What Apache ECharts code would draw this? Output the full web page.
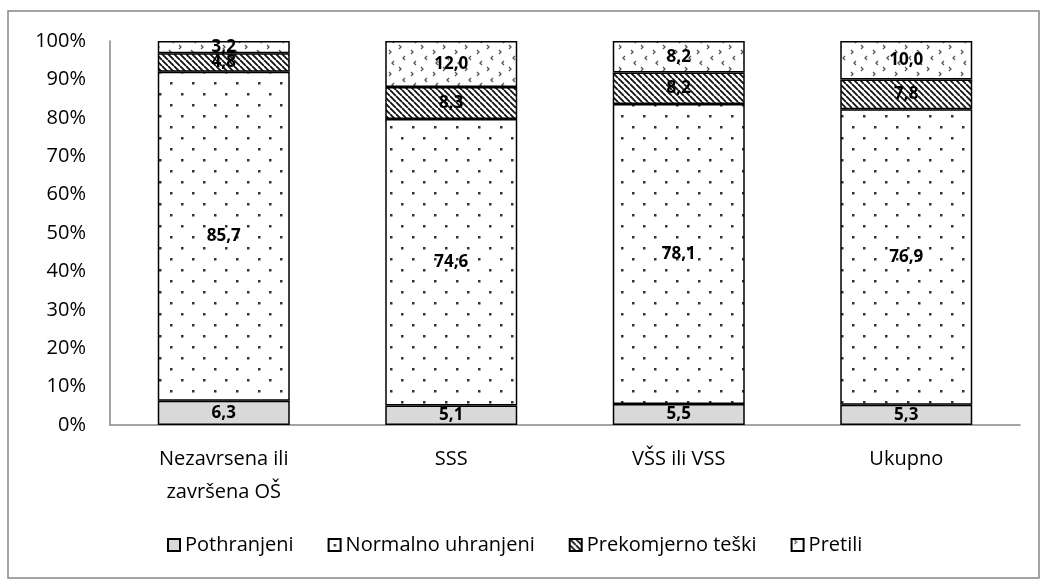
<!DOCTYPE html>
<html>
<head>
<meta charset="utf-8">
<script src="https://cdn.jsdelivr.net/npm/echarts@6/dist/echarts.min.js"></script>
<style>
    html, body { margin: 0; padding: 0; background: #fff; }
    #chart { width: 1041px; height: 581px; }
</style>
</head>
<body>
<div id="chart"></div>
<script>
const categories = ["Nezavrsena ili\nzavršena OŠ", "SSS", "VŠS ili VSS", "Ukupno"];
const seriesNames = ["Pothranjeni", "Normalno uhranjeni", "Prekomjerno teški", "Pretili"];
const pothranjeni = [6.3, 5.1, 5.5, 5.3];
const normalno = [85.7, 74.6, 78.1, 76.9];
const prekomjerno = [4.8, 8.3, 8.2, 7.8];
const pretili = [3.2, 12.0, 8.2, 10.0];
const yTicks = [0, 10, 20, 30, 40, 50, 60, 70, 80, 90, 100];

const FONT = "Open Sans";

function makeTile(w, h, draw) {
    const c = document.createElement("canvas");
    c.width = w;
    c.height = h;
    const ctx = c.getContext("2d");
    ctx.fillStyle = "#fff";
    ctx.fillRect(0, 0, w, h);
    draw(ctx);
    return { image: c, repeat: "repeat" };
}

// sparse dots
const dotFill = makeTile(22, 22, ctx => {
    ctx.fillStyle = "#333";
    ctx.fillRect(5, 5, 2.5, 2.5);
    ctx.fillRect(16, 16, 2.5, 2.5);
});

// dark diagonal hatch
const hatchFill = makeTile(6, 6, ctx => {
    ctx.strokeStyle = "#111";
    ctx.lineWidth = 1.8;
    ctx.beginPath();
    for (let k = -6; k <= 12; k += 6) {
        ctx.moveTo(k, 0);
        ctx.lineTo(k + 6, 6);
    }
    ctx.stroke();
});

// scattered chevrons
const confettiFill = makeTile(22, 22, ctx => {
    ctx.strokeStyle = "#555";
    ctx.lineWidth = 1.3;
    const chev = (x, y, dir) => {
        ctx.beginPath();
        ctx.moveTo(x, y);
        ctx.lineTo(x + 2 * dir, y + 2);
        ctx.lineTo(x, y + 4);
        ctx.stroke();
    };
    chev(3, 1, 1);
    chev(15, 6, 1);
    chev(9, 12, -1);
    chev(20, 17, -1);
});

const fills = ["#d9d9d9", dotFill, hatchFill, confettiFill];
const values = [pothranjeni, normalno, prekomjerno, pretili];

const chart = echarts.init(document.getElementById("chart"), null, { renderer: "canvas" });

chart.setOption({
    backgroundColor: "#fff",
    animation: false,
    textStyle: { fontFamily: FONT },
    graphic: [
        {
            type: "rect",
            shape: { x: 8, y: 11, width: 1031, height: 567 },
            style: { fill: "none", stroke: "#868686", lineWidth: 1.5 },
            silent: true
        }
    ],
    grid: { left: 110, right: 21, top: 41, bottom: 156 },
    legend: {
        bottom: 21,
        left: 162,
        itemWidth: 12,
        itemHeight: 12,
        itemGap: 34,
        icon: "rect",
        textStyle: { fontFamily: FONT, fontSize: 20, color: "#000" },
        data: seriesNames
    },
    xAxis: {
        type: "category",
        data: categories,
        axisLine: { lineStyle: { color: "#868686", width: 1.5 } },
        axisTick: { show: false },
        axisLabel: {
            fontFamily: FONT,
            fontSize: 20,
            color: "#000",
            lineHeight: 33,
            margin: 18
        }
    },
    yAxis: {
        type: "value",
        min: 0,
        max: 100,
        interval: 10,
        axisLine: { show: true, lineStyle: { color: "#868686", width: 1.5 } },
        axisTick: { show: false },
        splitLine: { show: false },
        axisLabel: {
            fontFamily: FONT,
            fontSize: 20,
            color: "#000",
            margin: 24,
            formatter: v => (yTicks.includes(v) ? v + "%" : "")
        }
    },
    series: seriesNames.map((name, i) => ({
        name,
        type: "bar",
        stack: "total",
        barWidth: 132,
        data: values[i],
        itemStyle: {
            color: fills[i],
            borderColor: "#000",
            borderWidth: 1.5
        },
        label: {
            show: true,
            position: "inside",
            color: "#000",
            fontFamily: FONT,
            fontWeight: "bold",
            fontSize: 17,
            formatter: p => p.value.toFixed(1).replace(".", ",")
        }
    }))
});
</script>
</body>
</html>
